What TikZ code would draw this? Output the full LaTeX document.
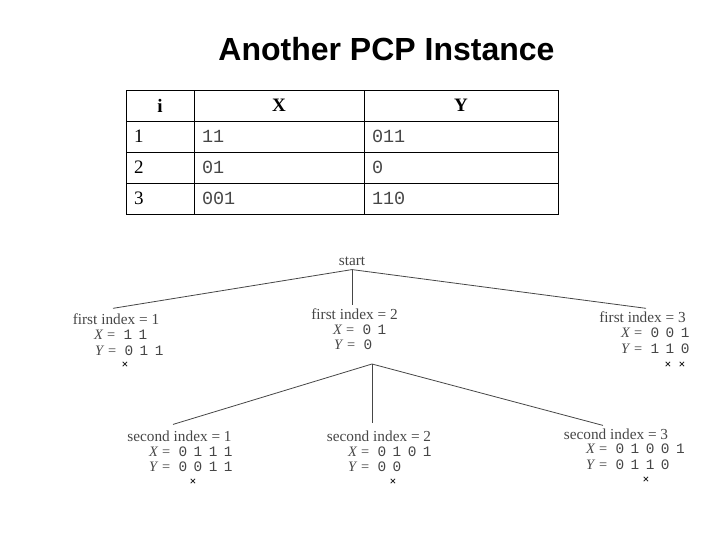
\documentclass[tikz,border=0pt]{standalone}
\usepackage{fontspec}
\setmainfont{Liberation Serif}
\setsansfont{Liberation Sans}
\setmonofont{Liberation Mono}
\newfontfamily\rowmono[WordSpace=0.75]{Liberation Mono}
\newcommand{\bits}[1]{\,\,{\rowmono #1}}
\usetikzlibrary{positioning}
\definecolor{treegray}{RGB}{70,70,70}

\begin{document}
\begin{tikzpicture}[
        x=1pt, y=-1pt,
        gridcell/.style={rectangle, draw=black, line width=0.9pt, outer sep=0pt, inner xsep=8pt, inner ysep=0pt, minimum height=31pt, align=left, font=\fontsize{19}{21}\selectfont},
        headcell/.style={gridcell, align=center, font=\fontsize{19}{21}\selectfont\bfseries},
        monotext/.style={text=treegray, font=\fontsize{18.5}{20}\ttfamily},
        indexlabel/.style={inner sep=0pt, text=treegray, font=\fontsize{15.3}{17}\selectfont},
        rowlabel/.style={anchor=west, inner sep=0pt, text=treegray, font=\fontsize{14.4}{16}\selectfont},
        crossmark/.style={inner sep=0pt, font=\fontsize{12}{12}\selectfont\bfseries},
        treeline/.style={draw=treegray, line width=0.8pt}
    ]
        \useasboundingbox (0,0) rectangle (720,540);
        \node[font=\fontsize{32}{36}\sffamily\bfseries] (title) at (386.5,49) {Another PCP Instance};

        % table
        \node[headcell, text width=52pt, anchor=north west] (headi) at (126,90) {i};
        \node[headcell, text width=154pt, right=0pt of headi] (headx) {X};
        \node[headcell, text width=178pt, right=0pt of headx] (heady) {Y};
        \node[gridcell, text width=52pt, below=0pt of headi] (rowa) {1};
        \node[gridcell, monotext, text width=154pt, right=0pt of rowa] (xa) {11};
        \node[gridcell, monotext, text width=178pt, right=0pt of xa] (ya) {011};
        \node[gridcell, text width=52pt, below=0pt of rowa] (rowb) {2};
        \node[gridcell, monotext, text width=154pt, right=0pt of rowb] (xb) {01};
        \node[gridcell, monotext, text width=178pt, right=0pt of xb] (yb) {0};
        \node[gridcell, text width=52pt, below=0pt of rowb] (rowc) {3};
        \node[gridcell, monotext, text width=154pt, right=0pt of rowc] (xc) {001};
        \node[gridcell, monotext, text width=178pt, right=0pt of xc] (yc) {110};

        % first level
        \node[indexlabel] (start) at (352,261) {start};
        \node[indexlabel] (firsta) at (116,319) {first index = 1};
        \node[rowlabel] (firstax) at (94,335) {\textit{X} = \bits{1 1}};
        \node[rowlabel] (firstay) at (95,351) {\textit{Y} = \bits{0 1 1}};
        \node[crossmark] (crossa) at (125,365) {×};
        \node[indexlabel] (firstb) at (354.5,314) {first index = 2};
        \node[rowlabel] (firstbx) at (333,330) {\textit{X} = \bits{0 1}};
        \node[rowlabel] (firstby) at (334,345) {\textit{Y} = \bits{0}};
        \node[indexlabel] (firstc) at (642.5,317) {first index = 3};
        \node[rowlabel] (firstcx) at (621,333) {\textit{X} = \bits{0 0 1}};
        \node[rowlabel] (firstcy) at (621,349) {\textit{Y} = \bits{1 1 0}};
        \node[crossmark] (crossb) at (668,365) {×};
        \node[crossmark] (crossc) at (682,365) {×};

        % second level
        \coordinate (hub) at (372,364);
        \node[indexlabel] (seconda) at (179.5,436) {second index = 1};
        \node[rowlabel] (secondax) at (149,452) {\textit{X} = \bits{0 1 1 1}};
        \node[rowlabel] (seconday) at (149,467) {\textit{Y} = \bits{0 0 1 1}};
        \node[crossmark] (crossd) at (193,482) {×};
        \node[indexlabel] (secondb) at (379,436) {second index = 2};
        \node[rowlabel] (secondbx) at (348,452) {\textit{X} = \bits{0 1 0 1}};
        \node[rowlabel] (secondby) at (348,467) {\textit{Y} = \bits{0 0}};
        \node[crossmark] (crosse) at (393,482) {×};
        \node[indexlabel] (secondc) at (616,434) {second index = 3};
        \node[rowlabel] (secondcx) at (586,449) {\textit{X} = \bits{0 1 0 0 1}};
        \node[rowlabel] (secondcy) at (586,465) {\textit{Y} = \bits{0 1 1 0}};
        \node[crossmark] (crossf) at (646,480) {×};

        \draw[treeline] ([yshift=-4pt]start.south) -- ([xshift=-3pt,yshift=5pt]firsta.north);
        \draw[treeline] ([yshift=-4pt]start.south) -- ([xshift=-2.5pt,yshift=3pt]firstb.north);
        \draw[treeline] ([yshift=-4pt]start.south) -- ([xshift=3.5pt,yshift=3pt]firstc.north);
        \draw[treeline] (hub) -- ([xshift=-6.5pt,yshift=6pt]seconda.north);
        \draw[treeline] (hub) -- ([xshift=-7pt,yshift=7pt]secondb.north);
        \draw[treeline] (hub) -- ([xshift=-13pt,yshift=3pt]secondc.north);
    \end{tikzpicture}
\end{document}
